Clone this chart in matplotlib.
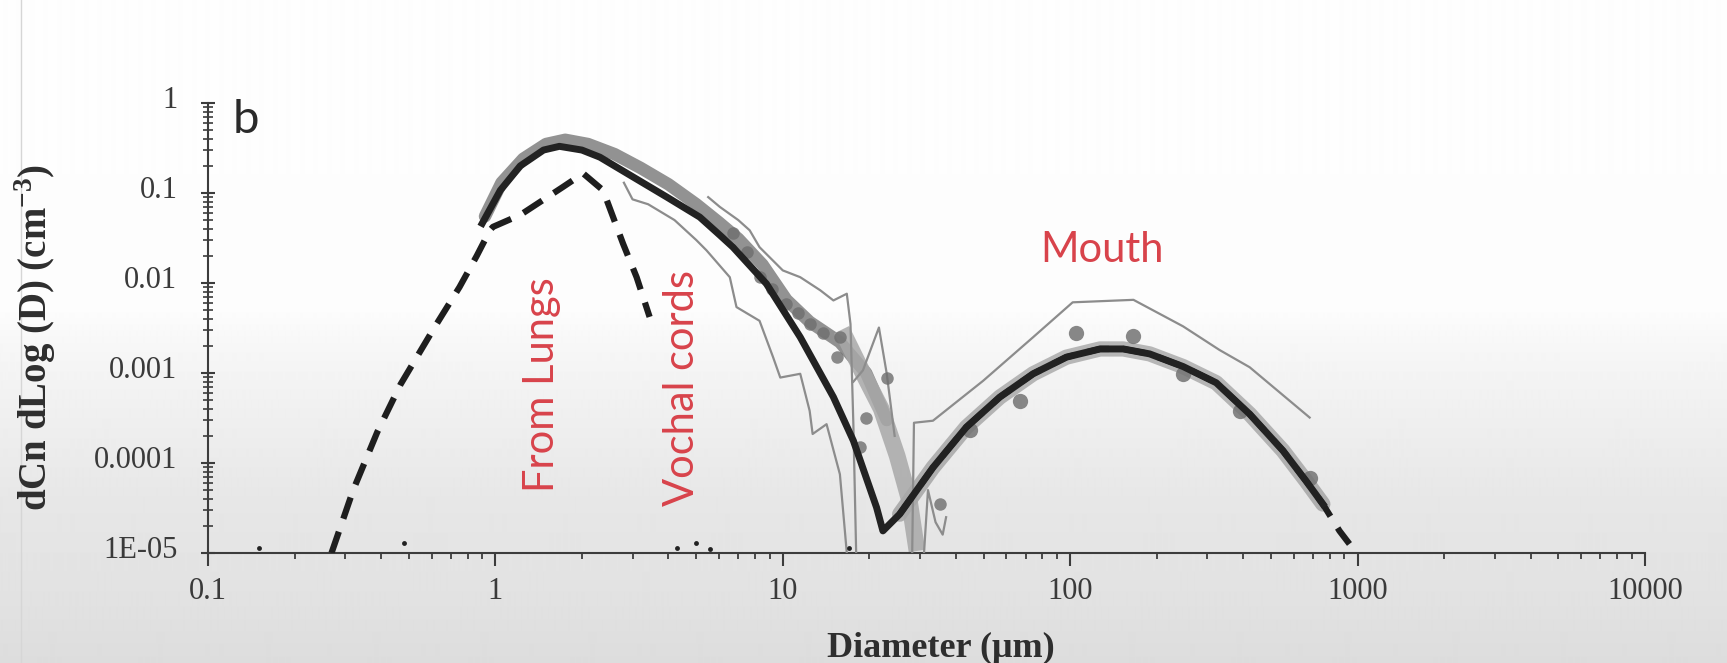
"""
Expired aerosol size distribution (panel b): lung, vocal-cord and mouth modes.
"""

import matplotlib
matplotlib.use("Agg")
import matplotlib.pyplot as plt
import numpy as np
from matplotlib.lines import Line2D
from matplotlib.ticker import FixedLocator, FixedFormatter, LogLocator, NullFormatter
from matplotlib.transforms import ScaledTranslation

plt.rcParams["font.family"] = ["Liberation Serif", "DejaVu Serif"]
plt.rcParams["mathtext.fontset"] = "custom"
plt.rcParams["mathtext.rm"] = "Liberation Serif"
plt.rcParams["mathtext.bf"] = "Liberation Serif:bold"

# --- data (diameter in um, dCn/dlogD in cm^-3) ---
# fitted total distribution (solid black)
fit_d = [0.90, 1.04, 1.22, 1.47, 1.67, 2.0, 2.31, 3.01, 3.94, 5.14, 6.04, 6.71, 8.77,
         11.5, 15.0, 17.6, 21.2, 22.3, 25.5, 33.3, 43.5, 56.9, 74.3, 97, 127, 153,
         189, 247, 322, 421, 550, 662, 757]
fit_y = [0.046, 0.107, 0.20, 0.30, 0.33, 0.30, 0.25, 0.151, 0.0905, 0.054, 0.034, 0.025,
         0.0098, 0.0025, 5.4e-4, 1.77e-4, 3.2e-5, 1.76e-5, 2.7e-5, 8.9e-5, 2.5e-4, 5.4e-4,
         9.8e-4, 0.0015, 0.00185, 0.00185, 0.00163, 0.00118, 7.8e-4, 3.5e-4, 1.37e-4,
         6.3e-5, 3.5e-5]

# lung / vocal-cord component (dashed)
lv_d = [0.269, 0.320, 0.388, 0.468, 0.617, 0.75, 0.861, 0.957, 0.98, 1.22, 1.72, 2.02,
        2.37, 2.78, 3.10, 3.44]
lv_y = [1e-5, 5e-5, 2.2e-4, 7.5e-4, 3.3e-3, 9e-3, 0.02, 0.0385, 0.042, 0.057, 0.117,
        0.165, 0.107, 0.0274, 0.0116, 0.0042]

# mouth component (dashed, mostly under the fit)
oral_d = [25.5, 33.3, 43.5, 56.9, 74.3, 97, 127, 153, 189, 247, 322, 421, 550, 662, 757,
          865, 937]
oral_y = [2.7e-5, 8.9e-5, 2.5e-4, 5.4e-4, 9.8e-4, 0.0015, 0.00185, 0.00185, 0.00163,
          0.00118, 7.8e-4, 3.5e-4, 1.37e-4, 6.3e-5, 3.5e-5, 1.76e-5, 1.26e-5]

# measured spread around the first mode
band_d = [0.92, 1.05, 1.25, 1.5, 1.75, 2.1, 2.6, 3.2, 4.0, 5.0, 6.0, 7.0, 8.5, 10.3,
          12.4, 15.8, 19.5, 23]
band_y = [0.055, 0.13, 0.24, 0.35, 0.39, 0.35, 0.27, 0.19, 0.125, 0.075, 0.047, 0.031,
          0.016, 0.0065, 0.0037, 0.0022, 0.001, 3e-4]

wedge_d = [16.5, 19.0, 22.0, 25.0, 27.5, 29.0]
wedge_y = [2.5e-3, 1e-3, 4e-4, 1.2e-4, 4e-5, 1.3e-5]

# individual subjects (thin grey)
subj1_d = [5.5, 6.04, 7.0, 7.67, 8.3, 10.0, 11.5, 13.5, 15.0, 16.7, 17.2, 17.6, 18.0]
subj1_y = [0.09, 0.07, 0.05, 0.0385, 0.025, 0.0138, 0.0116, 0.0083, 0.0064, 0.0076,
           0.0035, 2.7e-4, 1e-5]
subj2_d = [2.8, 3.0, 3.4, 4.2, 5.0, 5.43, 6.54, 6.9, 8.3, 9.25, 9.8, 11.5, 12.4, 12.7,
           14.2, 15.8, 16.7]
subj2_y = [0.13, 0.085, 0.075, 0.05, 0.03, 0.023, 0.0116, 0.0054, 0.0038, 0.0015, 8.9e-4,
           9.8e-4, 3.8e-4, 2.1e-4, 2.7e-4, 7.5e-5, 1e-5]
subj3_d = [17.6, 19.0, 21.6, 23.0, 24.5]
subj3_y = [8e-4, 1.07e-3, 3.2e-3, 9.8e-4, 2e-4]
subj4_d = [28.2, 28.6, 33.3, 49.8, 74.3, 102, 166, 247, 331, 421, 681]
subj4_y = [1e-5, 2.8e-4, 2.95e-4, 8.2e-4, 0.0025, 0.0061, 0.0065, 0.0033, 0.0018,
           0.00116, 3.2e-4]
subj5_d = [31.0, 32.0, 34.0, 36.0, 37.0]
subj5_y = [1e-5, 5e-5, 2.2e-5, 1.6e-5, 2.5e-5]

# measured points
lung_pts_d = [6.7, 7.5, 8.3, 9.2, 10.3, 11.3, 12.4, 13.8, 15.4, 15.8, 18.5, 19.5, 23, 35.2]
lung_pts_y = [0.036, 0.022, 0.0116, 0.0085, 0.0059, 0.0046, 0.0035, 0.0028, 0.0015, 0.0025,
              1.5e-4, 3.2e-4, 8.9e-4, 3.5e-5]
mouth_pts_d = [44.7, 66.7, 105, 166, 247, 389, 681]
mouth_pts_y = [2.3e-4, 4.9e-4, 0.0028, 0.0026, 9.8e-4, 3.8e-4, 6.9e-5]
floor_d = [0.15, 0.48, 4.3, 5.0, 5.6, 17.0]
floor_y = [1.15e-5, 1.3e-5, 1.15e-5, 1.3e-5, 1.1e-5, 1.15e-5]

x_ticks = [0.1, 1, 10, 100, 1000, 10000]
x_tick_labels = ["0.1", "1", "10", "100", "1000", "10000"]
y_ticks = [1e-5, 1e-4, 1e-3, 1e-2, 1e-1, 1]
y_tick_labels = ["1E-05", "0.0001", "0.001", "0.01", "0.1", "1"]

W, H, DPI = 1727, 663, 100
fig = plt.figure(figsize=(W / DPI, H / DPI), dpi=DPI)

# soft grey page background, lighter towards the top
bg = fig.add_axes([0, 0, 1, 1], zorder=-10)
rows = np.arange(H)
shade = np.interp(rows, [0, 310, 340, 400, 450, 500, 600, 663],
                  [0.995, 0.99, 0.97, 0.945, 0.925, 0.905, 0.885, 0.865])
bg.imshow(np.tile(shade[:, None], (1, 4)), cmap="gray", vmin=0, vmax=1,
          aspect="auto", extent=[0, 1, 0, 1], interpolation="bilinear")
bg.axis("off")
fig.add_artist(Line2D([21 / W, 21 / W], [0, 1], color="#d6d6d6", lw=1))

ax = fig.add_axes([208 / W, 1 - 553 / H, (1645 - 208) / W, (553 - 103) / H])
ax.set_facecolor("none")
ax.set_xscale("log")
ax.set_yscale("log")
ax.set_xlim(0.1, 10000)
ax.set_ylim(1e-5, 1)

grey = "#8c8c8c"
ax.plot(band_d, band_y, color="#6e6e6e", lw=9, alpha=0.75, solid_capstyle="round", zorder=2)
ax.plot(fit_d[18:], fit_y[18:], color="#6a6a6a", lw=11, alpha=0.45, solid_capstyle="round", zorder=2)
ax.plot(wedge_d, wedge_y, color="#a8a8a8", lw=12, alpha=0.85, zorder=2)
for xs, ys in [(subj1_d, subj1_y), (subj2_d, subj2_y), (subj3_d, subj3_y),
               (subj4_d, subj4_y), (subj5_d, subj5_y)]:
    ax.plot(xs, ys, color=grey, lw=1.6, zorder=3)
ax.plot(lung_pts_d, lung_pts_y, "o", ms=9, color="#6e6e6e", alpha=0.8, mec="none", zorder=3)
ax.plot(mouth_pts_d, mouth_pts_y, "o", ms=11, color="#737373", alpha=0.85, mec="none", zorder=3)
ax.plot(floor_d, floor_y, "o", ms=3.5, color="#222222", mec="none", zorder=3)

ax.plot(lv_d, lv_y, color="#1e1e1e", lw=4.5, dashes=(3.6, 2.2), dash_capstyle="butt", zorder=4)
ax.plot(oral_d, oral_y, color="#1e1e1e", lw=4.5, dashes=(3.6, 2.2), dash_capstyle="butt", zorder=4)
ax.plot(fit_d, fit_y, color="#222222", lw=5, solid_joinstyle="round", zorder=5)

for side in ["top", "right"]:
    ax.spines[side].set_visible(False)
for side in ["left", "bottom"]:
    ax.spines[side].set_color("#3c3c3c")
    ax.spines[side].set_linewidth(1.5)

ax.xaxis.set_major_locator(FixedLocator(x_ticks))
ax.xaxis.set_major_formatter(FixedFormatter(x_tick_labels))
ax.yaxis.set_major_locator(FixedLocator(y_ticks))
ax.yaxis.set_major_formatter(FixedFormatter(y_tick_labels))
for axis in [ax.xaxis, ax.yaxis]:
    axis.set_minor_locator(LogLocator(base=10, subs=np.arange(2, 10)))
    axis.set_minor_formatter(NullFormatter())

ax.tick_params(axis="x", which="major", direction="out", length=9, width=1.5,
               color="#3c3c3c", labelcolor="#3a3a3a", labelsize=22, pad=8)
ax.tick_params(axis="x", which="minor", direction="out", length=4.5, width=1.3, color="#3c3c3c")
ax.tick_params(axis="y", which="major", direction="inout", length=10, width=1.5,
               color="#3c3c3c", labelcolor="#3a3a3a", labelsize=22, pad=17)
ax.tick_params(axis="y", which="minor", direction="inout", length=7, width=1.2, color="#3c3c3c")

fig.text(35 / W, 1 - 337 / H, r"dCn dLog (D) (cm$^{\mathbf{-3}}$)", rotation=90,
         ha="center", va="center", fontsize=28, fontweight="bold", color="#2e2e2e")
fig.text(941 / W, 1 - 657 / H, "Diameter (μm)", ha="center", va="baseline",
         fontsize=26, fontweight="bold", color="#2e2e2e")
fig.text(233 / W, 1 - 133 / H, "b", ha="left", va="baseline", fontsize=34,
         family="Lato", color="#2a2a2a")

red = "#d8434b"
fig.text(541.7 / W, 1 - 385 / H, "From Lungs", rotation=90, ha="center", va="center",
         fontsize=30, family="Lato", color=red)
fig.text(681.7 / W, 1 - 388 / H, "Vochal cords", rotation=90, ha="center", va="center",
         fontsize=30, family="Lato", color=red)
fig.text(1102 / W, 1 - 262 / H, "Mouth", ha="center", va="baseline",
         fontsize=30, family="Lato", color=red)

# y tick labels sit a little above their ticks
fig.canvas.draw()
for tick in ax.yaxis.get_major_ticks():
    tick.label1.set_transform(tick.label1.get_transform()
                              + ScaledTranslation(0, 0.06, fig.dpi_scale_trans))

fig.savefig("out.png", dpi=DPI)
plt.close(fig)
